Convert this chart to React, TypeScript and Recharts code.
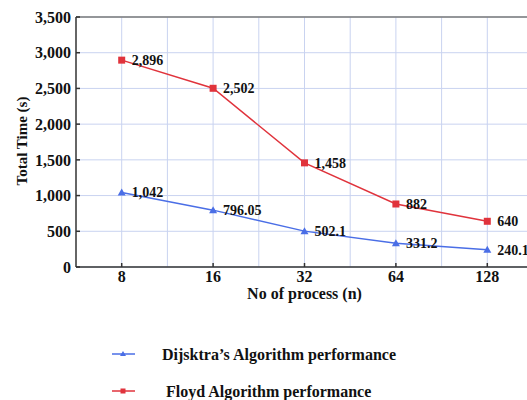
import React from "react";
import {
  CartesianGrid,
  Legend,
  Line,
  LineChart,
  ReferenceLine,
  XAxis,
  YAxis,
} from "recharts";

const processes = ["8", "16", "32", "64", "128"];
const dijkstraTimes = [1042, 796.05, 502.1, 331.2, 240.1];
const floydTimes = [2896, 2502, 1458, 882, 640];
const yTicks = [0, 500, 1000, 1500, 2000, 2500, 3000, 3500];

const BLUE = "#4a6ee6";
const RED = "#e0333c";
const GRID = "#c9d3f0";
const FONT = "'Liberation Serif', 'Times New Roman', serif";

const data = processes.map((p, i) => ({
  n: p,
  dijkstra: dijkstraTimes[i],
  floyd: floydTimes[i],
}));

const fmt = (v: number) => v.toLocaleString("en-US", { maximumFractionDigits: 2 });

const squareDot = (props: any) => {
  const { cx, cy, index } = props;
  return <rect key={`sq-${index}`} x={cx - 3.5} y={cy - 3.5} width={7} height={7} fill={RED} />;
};

const triangleDot = (props: any) => {
  const { cx, cy, index } = props;
  return (
    <polygon
      key={`tr-${index}`}
      points={`${cx},${cy - 4} ${cx - 4},${cy + 3} ${cx + 4},${cy + 3}`}
      fill={BLUE}
    />
  );
};

const valueLabel = (props: any) => {
  const { x, y, value, index } = props;
  return (
    <text
      key={`lb-${index}`}
      x={x + 10}
      y={y}
      dy="0.35em"
      fontFamily={FONT}
      fontWeight="bold"
      fontSize={14}
      fill="#111"
    >
      {fmt(value)}
    </text>
  );
};

const legendItems = [
  { name: "Dijsktra\u2019s Algorithm performance", color: BLUE, shape: "triangle", textX: 154, y: 346 },
  { name: "Floyd Algorithm performance", color: RED, shape: "square", textX: 158, y: 383 },
];

const LegendContent = () => (
  <svg width={420} height={70} style={{ overflow: "visible" }}>
    {legendItems.map((it) => {
      const cy = it.y - 330;
      return (
        <g key={it.name}>
          <line x1={104} x2={127} y1={cy} y2={cy} stroke={it.color} strokeWidth={1.5} />
          {it.shape === "square" ? (
            <rect x={112.5} y={cy - 2.5} width={5} height={5} fill={it.color} />
          ) : (
            <polygon points={`115,${cy - 3} 112,${cy + 2} 118,${cy + 2}`} fill={it.color} />
          )}
          <text
            x={it.textX}
            y={cy}
            dy="0.35em"
            fontFamily={FONT}
            fontWeight="bold"
            fontSize={16}
            fill="#111"
          >
            {it.name}
          </text>
        </g>
      );
    })}
  </svg>
);

export default function App() {
  return (
    <div style={{ position: "absolute", left: 8, top: 8, width: 519, height: 392, overflow: "hidden" }}>
      <LineChart
        width={540}
        height={392}
        data={data}
        margin={{ top: 9, right: 15, bottom: 103, left: 0 }}
      >
        <CartesianGrid
          stroke={GRID}
          strokeWidth={1}
          verticalCoordinatesGenerator={({ offset }: any) => {
            const half = offset.width / processes.length / 2;
            return Array.from({ length: processes.length * 2 }, (_, i) => offset.left + (i + 1) * half);
          }}
        />
        <ReferenceLine y={3500} stroke="#7a7a7a" strokeWidth={1.5} />
        <XAxis
          dataKey="n"
          height={30}
          padding={{ left: 45.7, right: 45.7 }}
          stroke="#333"
          strokeWidth={1.5}
          tickSize={-4}
          tickMargin={8}
          tick={{ fontFamily: FONT, fontWeight: "bold", fontSize: 16, fill: "#111" }}
          label={(props: any) => {
            const vb = props.viewBox;
            return (
              <text
                x={vb.x + vb.width / 2}
                y={vb.y + 26}
                dy="0.35em"
                textAnchor="middle"
                fontFamily={FONT}
                fontWeight="bold"
                fontSize={16}
                fill="#111"
              >
                No of process (n)
              </text>
            );
          }}
        />
        <YAxis
          width={68}
          domain={[0, 3500]}
          ticks={yTicks}
          interval={0}
          stroke="#333"
          strokeWidth={1.5}
          tickSize={-4}
          tickMargin={9}
          tickFormatter={(v: number) => fmt(v)}
          tick={{ fontFamily: FONT, fontWeight: "bold", fontSize: 16, fill: "#111" }}
          label={(props: any) => {
            const vb = props.viewBox;
            const cx = 14;
            const cy = vb.y + vb.height / 2 - 1;
            return (
              <text
                x={cx}
                y={cy}
                dy="0.35em"
                textAnchor="middle"
                transform={`rotate(-90 ${cx} ${cy})`}
                fontFamily={FONT}
                fontWeight="bold"
                fontSize={15}
                fill="#111"
              >
                Total Time (s)
              </text>
            );
          }}
        />
        <Line
          dataKey="dijkstra"
          stroke={BLUE}
          strokeWidth={1.5}
          dot={triangleDot}
          label={valueLabel}
          isAnimationActive={false}
        />
        <Line
          dataKey="floyd"
          stroke={RED}
          strokeWidth={1.5}
          dot={squareDot}
          label={valueLabel}
          isAnimationActive={false}
        />
        <Legend
          layout="vertical"
          align="center"
          verticalAlign="middle"
          content={() => <LegendContent />}
          wrapperStyle={{ left: 0, top: 330, width: 420, height: 70 }}
        />
      </LineChart>
    </div>
  );
}
